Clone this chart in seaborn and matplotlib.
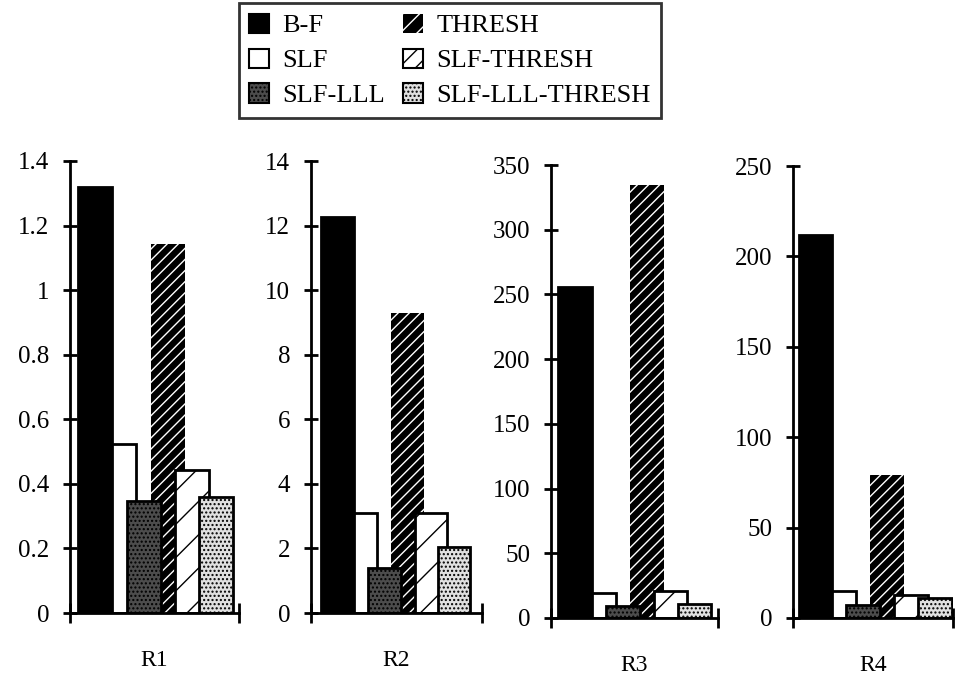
import matplotlib
matplotlib.use("Agg")
import matplotlib.pyplot as plt
import seaborn as sns
import pandas as pd
from matplotlib.patches import Patch
from matplotlib.ticker import FuncFormatter, MultipleLocator

# ---- data ----
series = ["B-F", "SLF", "SLF-LLL", "THRESH", "SLF-THRESH", "SLF-LLL-THRESH"]
panels = ["R1", "R2", "R3", "R4"]
r1_values = [1.32, 0.525, 0.346, 1.143, 0.444, 0.358]
r2_values = [12.26, 3.11, 1.39, 9.28, 3.11, 2.03]
r3_values = [256, 19, 9, 334.6, 21, 11]
r4_values = [211.8, 14.7, 7.3, 79.2, 12.9, 11]
y_max = [1.4, 14, 350, 250]
y_step = [0.2, 2, 50, 50]

# ---- styles ----
face = {"B-F": "black", "SLF": "white", "SLF-LLL": "#4c4c4c",
        "THRESH": "black", "SLF-THRESH": "white", "SLF-LLL-THRESH": "#e0e0e0"}
hatch = {"B-F": None, "SLF": None, "SLF-LLL": "....", "THRESH": "///",
         "SLF-THRESH": "/", "SLF-LLL-THRESH": "...."}
zorders = {"B-F": 4, "SLF": 2, "SLF-LLL": 3, "THRESH": 2, "SLF-THRESH": 3, "SLF-LLL-THRESH": 4}

sns.set_theme(style="ticks")
plt.rcParams["font.family"] = ["Liberation Serif", "DejaVu Serif"]
plt.rcParams["hatch.linewidth"] = 1.0

W, H = 955, 675
fig = plt.figure(figsize=(W / 100, H / 100), dpi=100)

# axes layout in pixels: left, top, width, bottom(zero line)
layout = [(70, 161, 169, 613), (311, 161, 171, 613), (551, 165, 167, 618), (793, 166, 160, 618)]
xlims = [(-1.03, 5.93), (-1.15, 6.2), (-1.01, 5.98), (-0.93, 5.75)]

all_values = [r1_values, r2_values, r3_values, r4_values]
for i, name in enumerate(panels):
    l, t, w, b = layout[i]
    ax = fig.add_axes([l / W, 1 - b / H, w / W, (b - t) / H])
    df = pd.DataFrame({"series": series, "value": all_values[i]})
    sns.barplot(data=df, x="series", y="value", hue="series", order=series,
                hue_order=series, palette=face, dodge=False, width=1.4,
                saturation=1, edgecolor="black", linewidth=2, legend=False, ax=ax)
    for p, s in zip(ax.patches, series):
        p.set_zorder(zorders[s])
        if hatch[s]:
            p.set_hatch(hatch[s])
        if s == "THRESH":
            p.set_facecolor("black")
            p.set_edgecolor("white")
            p.set_linewidth(0)
    ax.set_xlim(*xlims[i])
    ax.set_ylim(0, y_max[i])
    ax.yaxis.set_major_locator(MultipleLocator(y_step[i]))
    ax.yaxis.set_major_formatter(FuncFormatter(lambda v, pos: f"{v:g}"))
    ax.set_xticks(list(xlims[i]))
    ax.set_xticklabels(["", ""])
    ax.set_ylabel("")
    ax.set_xlabel(name, fontsize=17, labelpad=16, color="black")
    for sp in ["top", "right"]:
        ax.spines[sp].set_visible(False)
    for sp in ["left", "bottom"]:
        ax.spines[sp].set_linewidth(2)
        ax.spines[sp].set_color("black")
        ax.spines[sp].set_zorder(6)
    ax.tick_params(axis="y", direction="inout", length=10, width=2, labelsize=18,
                   pad=10, color="black", labelcolor="black")
    ax.tick_params(axis="x", direction="inout", length=14, width=2, color="black")
    ax.set_facecolor("white")
    ax.grid(False)

handles = []
for s in series:
    if s == "THRESH":
        handles.append(Patch(facecolor="black", edgecolor="white", hatch="//", linewidth=0, label=s))
    elif s == "SLF-THRESH":
        handles.append(Patch(facecolor="white", edgecolor="black", hatch="//", linewidth=1.5, label=s))
    else:
        handles.append(Patch(facecolor=face[s], edgecolor="black", hatch=hatch[s], linewidth=1.5, label=s))

leg = fig.legend(handles=handles, labels=series, ncol=2, loc="upper center",
                 bbox_to_anchor=(450 / W, 1 - 3 / H), fontsize=19,
                 handlelength=0.75, handleheight=0.75, handletextpad=0.5,
                 columnspacing=0.7, labelspacing=0.42, borderpad=0.4,
                 borderaxespad=0, frameon=True, fancybox=False)
leg.get_frame().set_edgecolor("black")
leg.get_frame().set_linewidth(2)
for txt in leg.get_texts():
    txt.set_color("black")

fig.savefig("out.png", dpi=100, facecolor="white")
